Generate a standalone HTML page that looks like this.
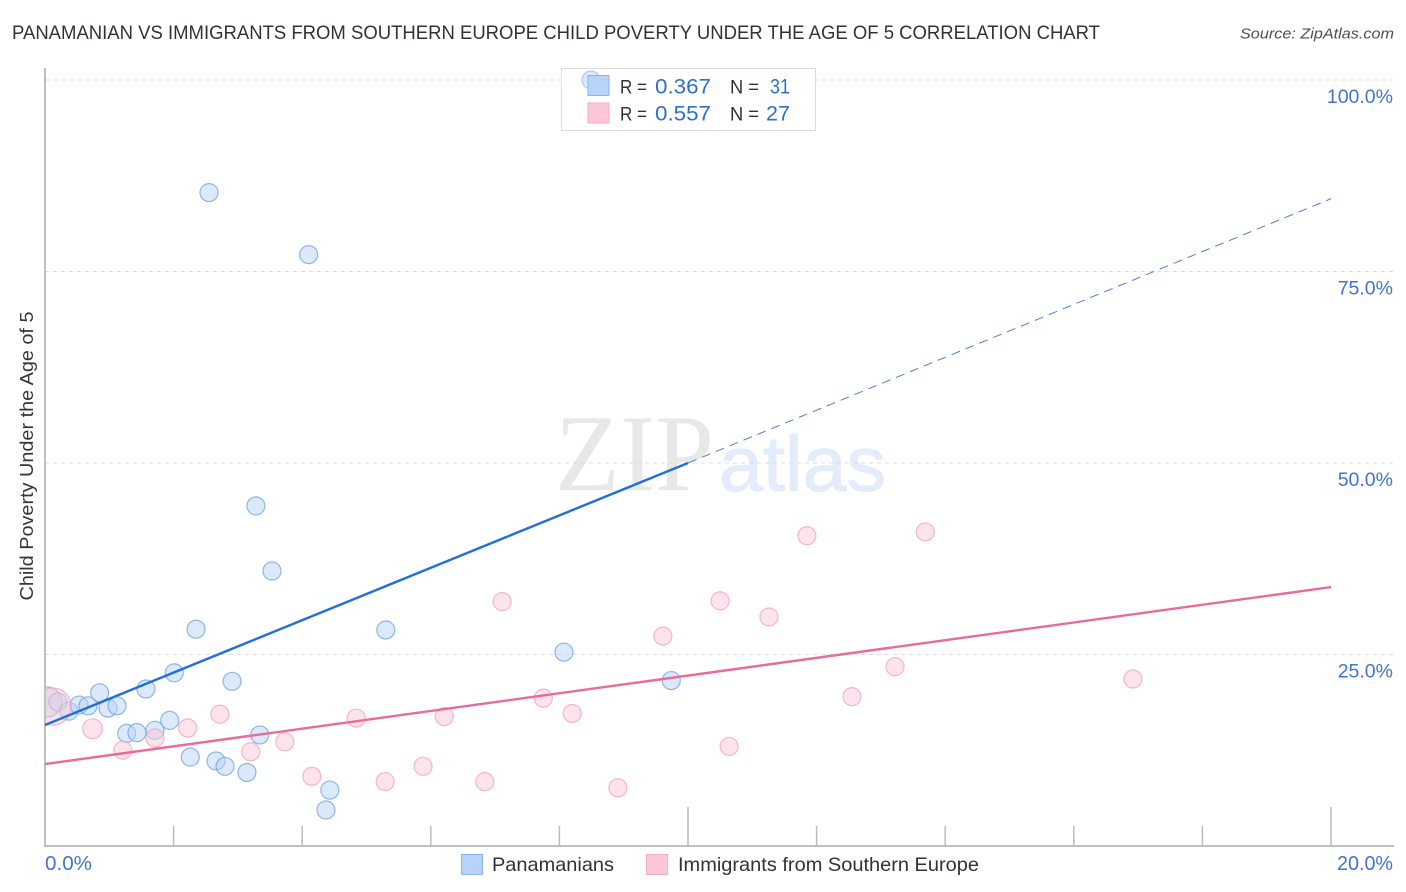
<!DOCTYPE html>
<html lang="en">
<head>
<meta charset="utf-8">
<title>Panamanian vs Immigrants from Southern Europe Child Poverty Correlation Chart</title>
<style>
html,body{margin:0;padding:0;background:#fff;width:1406px;height:892px;overflow:hidden}
svg{display:block;font-family:"Liberation Sans",sans-serif}
</style>
</head>
<body>
<svg id="chart" width="1406" height="892" viewBox="0 0 1406 892" xmlns="http://www.w3.org/2000/svg">
  <defs>
    <clipPath id="plot-clip"><rect x="46" y="60" width="1350" height="786"/></clipPath>
  </defs>
  <text x="12" y="39" font-size="19.5" fill="#2f3338" textLength="1088" lengthAdjust="spacingAndGlyphs">PANAMANIAN VS IMMIGRANTS FROM SOUTHERN EUROPE CHILD POVERTY UNDER THE AGE OF 5 CORRELATION CHART</text>
  <text x="1394" y="38.500" font-size="15" font-style="italic" fill="#4a4e53" text-anchor="end" textLength="154" lengthAdjust="spacingAndGlyphs">Source: ZipAtlas.com</text>

  <g>
    <text x="555" y="490" font-family="'Liberation Serif',serif" font-size="109" fill="#e8e8e8" textLength="159" lengthAdjust="spacingAndGlyphs">ZIP</text>
    <text x="719" y="490.500" font-size="78" fill="#e3ecfa" stroke="#e3ecfa" stroke-width="1" textLength="167" lengthAdjust="spacingAndGlyphs">atlas</text>
  </g>

  <g id="grid"></g>
  <g id="axes"></g>
  <g id="points-blue" clip-path="url(#plot-clip)"></g>
  <g id="points-pink" clip-path="url(#plot-clip)"></g>
  <g id="trends"></g>

  <text transform="translate(33,456) rotate(-90)" font-size="18.500" fill="#33373c" text-anchor="middle" textLength="289" lengthAdjust="spacingAndGlyphs">Child Poverty Under the Age of 5</text>

  <g>
    <rect x="561.500" y="68.500" width="254" height="62" fill="#fff" fill-opacity="0.85" stroke="#dcdcdc"/>
    <circle cx="591" cy="80" r="9" fill="#b9d4f7" fill-opacity="0.5" stroke="#6ea0e0" stroke-opacity="0.5"/>
    <rect x="588" y="75.500" width="21" height="20" fill="#b7d3f8" stroke="#8ab4ea"/>
    <rect x="588" y="103" width="21" height="20" fill="#fcc8d8" stroke="#f3aec5"/>
    <g font-size="19.500">
      <text x="620" y="93.500" fill="#2f3338" textLength="27" lengthAdjust="spacingAndGlyphs">R =</text>
      <text x="655" y="93.500" font-size="21.500" fill="#2f6fd0" textLength="56" lengthAdjust="spacingAndGlyphs">0.367</text>
      <text x="730" y="93.500" fill="#2f3338" textLength="29" lengthAdjust="spacingAndGlyphs">N =</text>
      <text x="770" y="93.500" font-size="21.500" fill="#2f6fd0" textLength="20" lengthAdjust="spacingAndGlyphs">31</text>
      <text x="620" y="120.500" fill="#2f3338" textLength="27" lengthAdjust="spacingAndGlyphs">R =</text>
      <text x="655" y="120.500" font-size="21.500" fill="#2f6fd0" textLength="56" lengthAdjust="spacingAndGlyphs">0.557</text>
      <text x="730" y="120.500" fill="#2f3338" textLength="29" lengthAdjust="spacingAndGlyphs">N =</text>
      <text x="766" y="120.500" font-size="21.500" fill="#2f6fd0" textLength="24" lengthAdjust="spacingAndGlyphs">27</text>
    </g>
  </g>

  <g>
    <rect x="461.500" y="854.500" width="21" height="20" fill="#b7d3f8" stroke="#8ab4ea"/>
    <text x="492" y="871" font-size="19.500" fill="#2f3338" textLength="122" lengthAdjust="spacingAndGlyphs">Panamanians</text>
    <rect x="646.500" y="854.500" width="21" height="20" fill="#fcc8d8" stroke="#f3aec5"/>
    <text x="678" y="871" font-size="19.500" fill="#2f3338" textLength="301" lengthAdjust="spacingAndGlyphs">Immigrants from Southern Europe</text>
  </g>
</svg>
<script>
const yTickValues = [25, 50, 75, 100];
const yTickLabels = ["25.0%", "50.0%", "75.0%", "100.0%"];
const xTickValues = [2, 4, 6, 8, 10, 12, 14, 16, 18, 20];
const xMajorTickValues = [10, 20];
const xEndValues = [0, 20];
const xEndLabels = ["0.0%", "20.0%"];

const blueX = [8.49, 2.55, 4.10, 3.28, 3.53, 2.35, 5.30, 8.07, 9.74, 0.03, 0.20, 0.37, 0.53, 0.67, 0.85, 0.98, 1.12, 1.57, 2.01, 2.91, 1.27, 1.43, 1.71, 1.94, 2.26, 2.66, 2.80, 3.14, 3.34, 4.43, 4.37];
const blueY = [100, 85.3, 77.2, 44.4, 35.9, 28.3, 28.2, 25.3, 21.6, 18.8, 18.8, 17.6, 18.4, 18.3, 20.0, 18.0, 18.3, 20.5, 22.6, 21.5, 14.7, 14.8, 15.1, 16.4, 11.6, 11.1, 10.4, 9.6, 14.5, 7.3, 4.7];
const blueWeight = [1, 1, 1, 1, 1, 1, 1, 1, 1, 2.8, 1, 1, 1, 1, 1, 1, 1, 1, 1, 1, 1, 1, 1, 1, 1, 1, 1, 1, 1, 1, 1];

const pinkX = [0.12, 0.74, 1.21, 1.71, 2.22, 2.72, 3.20, 3.73, 4.15, 4.84, 5.29, 5.88, 6.21, 6.84, 7.11, 7.75, 8.20, 8.91, 9.61, 10.50, 10.64, 11.26, 11.85, 12.55, 13.22, 13.69, 16.92];
const pinkY = [18.2, 15.3, 12.5, 14.1, 15.4, 17.2, 12.3, 13.6, 9.1, 16.7, 8.4, 10.4, 16.9, 8.4, 31.9, 19.3, 17.3, 7.6, 27.4, 32.0, 13.0, 29.9, 40.5, 19.5, 23.4, 41.0, 21.8];
const pinkWeight = [4.25, 1.2, 1, 1, 1, 1, 1, 1, 1, 1, 1, 1, 1, 1, 1, 1, 1, 1, 1, 1, 1, 1, 1, 1, 1, 1, 1];

const blueTrendX = [0, 10, 20];
const blueTrendY = [15.8, 50, 84.5];
const pinkTrendX = [0, 20];
const pinkTrendY = [10.7, 33.8];

const NS = "http://www.w3.org/2000/svg";
function xPos(v) { return 45 + v * 64.3; }
function yPos(v) { return 846 - v * 7.66; }
function radius(w) { return 9 * Math.sqrt(w); }
function make(tag, attrs, parent) {
  const el = document.createElementNS(NS, tag);
  for (const k in attrs) el.setAttribute(k, attrs[k]);
  parent.appendChild(el);
  return el;
}

const grid = document.getElementById("grid");
const axes = document.getElementById("axes");

yTickValues.forEach(function (v, i) {
  const line = make("line", { x1: 45, x2: 1393, y1: yPos(v), y2: yPos(v), stroke: "#dcdcdc", "stroke-width": 1, "stroke-dasharray": "4 4" }, grid);
  
  
  const label = make("text", { x: 1393, y: yPos(v) + 23, "text-anchor": "end", "font-size": 19.5, fill: "#3f75cf" }, axes);
  label.textContent = yTickLabels[i];
  
  
});

const yAxisLine = make("line", { x1: 45, x2: 45, y1: 68, y2: 846, stroke: "#aaaaaa", "stroke-width": 1.5 }, axes);


const xAxisLine = make("line", { x1: 44, x2: 1394, y1: 846, y2: 846, stroke: "#aaaaaa", "stroke-width": 1.5 }, axes);



xTickValues.forEach(function (v) {
  const tick = make("line", { x1: xPos(v), x2: xPos(v), y1: xMajorTickValues.includes(v) ? 807 : 826, y2: 846, stroke: "#bbbbbb", "stroke-width": 1.5 }, axes);
  
  
});

xEndValues.forEach(function (v, i) {
  const label = make("text", { x: i === 0 ? xPos(v) : 1393, y: 870, "text-anchor": i === 0 ? "start" : "end", "font-size": 20, fill: "#3f75cf", textLength: i === 0 ? 47 : 56, lengthAdjust: "spacingAndGlyphs" }, axes);
  label.textContent = xEndLabels[i];
  
  
});

function drawPoints(groupId, xs, ys, ws, fill, stroke, name) {
  const g = document.getElementById(groupId);
  xs.forEach(function (x, i) {
    const c = make("circle", { cx: xPos(x), cy: yPos(ys[i]), r: radius(ws[i]), fill: fill, "fill-opacity": 0.5, stroke: stroke, "stroke-opacity": 0.75, "stroke-width": 1.2 }, g);
    
    
  });
}
drawPoints("points-blue", blueX, blueY, blueWeight, "#b9d4f7", "#6ea0e0", "panamanians-point");
drawPoints("points-pink", pinkX, pinkY, pinkWeight, "#fcc8d8", "#f0a0bb", "immigrants-point");

const trends = document.getElementById("trends");
const blueDash = make("line", { x1: xPos(blueTrendX[1]), y1: yPos(blueTrendY[1]), x2: xPos(blueTrendX[2]), y2: yPos(blueTrendY[2]), stroke: "#4f7fd0", "stroke-width": 1, "stroke-dasharray": "9 6" }, trends);


const blueSolid = make("line", { x1: xPos(blueTrendX[0]), y1: yPos(blueTrendY[0]), x2: xPos(blueTrendX[1]), y2: yPos(blueTrendY[1]), stroke: "#1f6fdc", "stroke-width": 2.4 }, trends);


const pinkSolid = make("line", { x1: xPos(pinkTrendX[0]), y1: yPos(pinkTrendY[0]), x2: xPos(pinkTrendX[1]), y2: yPos(pinkTrendY[1]), stroke: "#ea6a9a", "stroke-width": 2.4 }, trends);


</script>
</body>
</html>
